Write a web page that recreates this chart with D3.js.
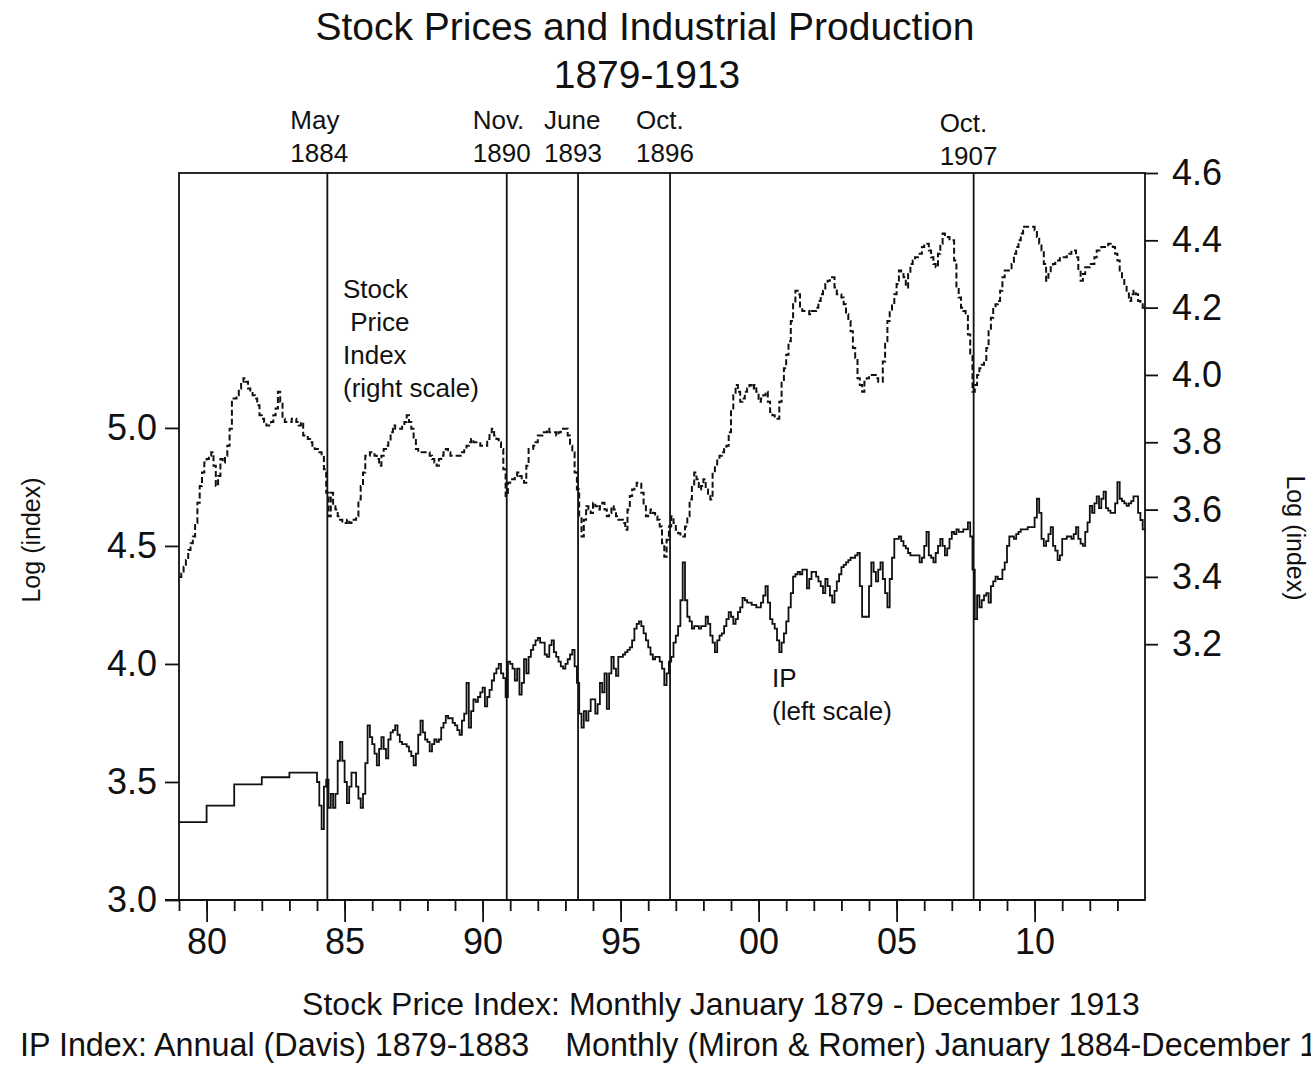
<!DOCTYPE html>
<html><head><meta charset="utf-8">
<script src="https://cdn.jsdelivr.net/npm/d3@7"></script>
<style>
body{margin:0;background:#fff}
svg{display:block}
text{font-family:"Liberation Sans",Arial,Helvetica,sans-serif;fill:#111}
</style>
</head><body>
<svg id="chart" width="1311" height="1066"></svg>
<script>
// ---------------- DATA ----------------
const titleLines = ["Stock Prices and Industrial Production", "1879-1913"];
const footerLines = [
  "Stock Price Index: Monthly January 1879 - December 1913",
  "IP Index: Annual (Davis) 1879-1883    Monthly (Miron & Romer) January 1884-December 1913"
];
const axisTitle = "Log (index)";

// Stock price index, log, monthly Jan 1879 - Dec 1913 (right scale)
const stockStartYear = 1879;
const stockPrice = [
  3.40,3.41,3.43,3.45,3.48,3.50,3.52,3.56,3.62,3.67,3.71,3.74, // 1879
  3.75,3.76,3.77,3.73,3.67,3.70,3.75,3.74,3.76,3.79,3.84,3.93, // 1880
  3.93,3.94,3.96,3.98,3.99,3.98,3.96,3.95,3.94,3.93,3.91,3.88, // 1881
  3.87,3.86,3.85,3.85,3.86,3.88,3.90,3.95,3.92,3.87,3.86,3.86, // 1882
  3.86,3.87,3.87,3.86,3.85,3.86,3.82,3.82,3.81,3.80,3.79,3.78, // 1883
  3.78,3.77,3.76,3.72,3.65,3.58,3.65,3.61,3.60,3.58,3.57,3.56, // 1884
  3.56,3.57,3.56,3.57,3.57,3.58,3.63,3.67,3.71,3.76,3.76,3.77, // 1885
  3.77,3.76,3.75,3.73,3.76,3.78,3.79,3.80,3.83,3.85,3.84,3.84, // 1886
  3.84,3.85,3.86,3.88,3.86,3.84,3.81,3.78,3.77,3.77,3.77,3.77, // 1887
  3.77,3.76,3.75,3.74,3.73,3.75,3.76,3.77,3.78,3.77,3.76,3.76, // 1888
  3.76,3.76,3.76,3.77,3.78,3.79,3.80,3.81,3.80,3.80,3.80,3.79, // 1889
  3.79,3.79,3.81,3.83,3.84,3.82,3.81,3.80,3.78,3.72,3.64,3.68, // 1890
  3.69,3.69,3.70,3.71,3.70,3.69,3.68,3.73,3.78,3.78,3.79,3.80, // 1891
  3.82,3.82,3.83,3.83,3.84,3.83,3.83,3.83,3.82,3.83,3.84,3.84, // 1892
  3.84,3.82,3.79,3.77,3.71,3.66,3.58,3.52,3.57,3.61,3.60,3.59, // 1893
  3.62,3.61,3.60,3.61,3.62,3.60,3.58,3.59,3.61,3.60,3.58,3.57, // 1894
  3.57,3.56,3.54,3.60,3.64,3.66,3.67,3.68,3.68,3.65,3.61,3.58, // 1895
  3.59,3.60,3.59,3.58,3.57,3.55,3.50,3.46,3.51,3.55,3.58,3.56, // 1896
  3.54,3.53,3.52,3.52,3.55,3.58,3.63,3.67,3.71,3.69,3.66,3.67, // 1897
  3.69,3.66,3.64,3.63,3.71,3.73,3.75,3.76,3.77,3.78,3.79,3.83, // 1898
  3.90,3.94,3.97,3.95,3.92,3.93,3.95,3.96,3.97,3.96,3.97,3.95, // 1899
  3.92,3.93,3.94,3.95,3.92,3.89,3.88,3.87,3.87,3.92,3.98,4.02, // 1900
  4.06,4.10,4.16,4.21,4.25,4.24,4.20,4.19,4.19,4.19,4.18,4.19, // 1901
  4.19,4.20,4.22,4.24,4.25,4.27,4.28,4.29,4.29,4.26,4.24,4.24, // 1902
  4.23,4.21,4.18,4.16,4.13,4.08,4.05,3.99,3.97,3.95,3.98,3.99, // 1903
  4.00,4.00,4.00,3.99,3.98,3.98,4.04,4.10,4.16,4.19,4.21,4.24, // 1904
  4.27,4.31,4.30,4.29,4.26,4.30,4.33,4.34,4.35,4.35,4.36,4.38, // 1905
  4.39,4.39,4.37,4.35,4.33,4.32,4.36,4.39,4.42,4.41,4.41,4.40, // 1906
  4.40,4.34,4.26,4.23,4.20,4.19,4.18,4.12,4.06,3.95,3.97,4.00, // 1907
  4.02,4.03,4.04,4.08,4.13,4.17,4.20,4.21,4.22,4.25,4.29,4.31, // 1908
  4.31,4.31,4.33,4.36,4.38,4.40,4.42,4.44,4.44,4.44,4.44,4.44, // 1909
  4.43,4.41,4.39,4.37,4.33,4.28,4.30,4.32,4.33,4.34,4.34,4.35, // 1910
  4.35,4.35,4.36,4.36,4.37,4.37,4.35,4.31,4.28,4.30,4.32,4.32, // 1911
  4.33,4.33,4.35,4.37,4.37,4.38,4.38,4.38,4.39,4.39,4.38,4.36, // 1912
  4.34,4.31,4.29,4.27,4.25,4.22,4.24,4.25,4.24,4.22,4.21,4.20  // 1913
];

// Industrial production, log (left scale): annual 1879-1883 (Davis)
const ipAnnualYears = [1879, 1880, 1881, 1882, 1883];
const ipAnnual = [3.33, 3.40, 3.49, 3.52, 3.54];
// monthly Jan 1884 - Dec 1913 (Miron & Romer)
const ipMonthlyStartYear = 1884;
const ipMonthly = [
  3.50,3.40,3.30,3.48,3.51,3.39,3.45,3.39,3.45,3.59,3.67,3.59, // 1884
  3.50,3.41,3.48,3.54,3.54,3.48,3.43,3.39,3.45,3.58,3.74,3.69, // 1885
  3.66,3.62,3.57,3.64,3.69,3.64,3.60,3.68,3.71,3.72,3.74,3.70, // 1886
  3.67,3.66,3.66,3.65,3.63,3.61,3.57,3.62,3.70,3.76,3.71,3.68, // 1887
  3.67,3.63,3.66,3.68,3.67,3.68,3.73,3.75,3.78,3.77,3.77,3.75, // 1888
  3.74,3.72,3.70,3.76,3.79,3.92,3.73,3.80,3.85,3.84,3.86,3.88, // 1889
  3.90,3.82,3.86,3.89,3.93,3.96,3.98,4.00,3.96,3.94,3.86,4.01, // 1890
  4.00,3.98,3.93,3.98,3.87,3.92,4.02,3.96,4.03,4.06,4.08,4.10, // 1891
  4.11,4.09,4.09,4.04,4.03,4.08,4.10,4.05,4.03,4.01,3.99,3.98, // 1892
  4.00,4.02,4.04,4.06,3.99,3.92,3.79,3.73,3.80,3.76,3.80,3.85, // 1893
  3.85,3.79,3.83,3.92,3.88,3.96,3.81,3.96,4.03,3.98,3.95,4.03, // 1894
  4.03,4.04,4.05,4.06,4.07,4.10,4.15,4.17,4.18,4.16,4.13,4.10, // 1895
  4.07,4.04,4.02,4.03,4.03,4.01,3.98,3.91,3.96,4.01,4.03,4.09, // 1896
  4.12,4.16,4.27,4.43,4.27,4.20,4.18,4.15,4.16,4.16,4.15,4.16, // 1897
  4.16,4.20,4.17,4.12,4.09,4.05,4.10,4.12,4.13,4.16,4.19,4.22, // 1898
  4.20,4.17,4.19,4.22,4.24,4.28,4.27,4.26,4.26,4.25,4.25,4.24, // 1899
  4.24,4.26,4.29,4.33,4.26,4.19,4.17,4.15,4.10,4.05,4.09,4.13, // 1900
  4.18,4.24,4.30,4.37,4.38,4.39,4.38,4.40,4.40,4.32,4.36,4.39, // 1901
  4.39,4.37,4.35,4.33,4.30,4.36,4.33,4.29,4.26,4.31,4.35,4.38, // 1902
  4.41,4.42,4.43,4.44,4.45,4.45,4.46,4.47,4.33,4.20,4.20,4.20, // 1903
  4.33,4.43,4.39,4.35,4.40,4.43,4.36,4.30,4.24,4.36,4.45,4.53, // 1904
  4.53,4.54,4.52,4.50,4.49,4.47,4.46,4.46,4.46,4.46,4.43,4.45, // 1905
  4.50,4.56,4.46,4.45,4.43,4.47,4.50,4.53,4.50,4.46,4.49,4.53, // 1906
  4.56,4.55,4.57,4.56,4.56,4.57,4.57,4.60,4.54,4.40,4.19,4.29, // 1907
  4.24,4.27,4.29,4.30,4.26,4.33,4.35,4.37,4.36,4.36,4.40,4.43, // 1908
  4.50,4.54,4.54,4.53,4.55,4.56,4.57,4.57,4.57,4.58,4.58,4.58, // 1909
  4.62,4.70,4.64,4.53,4.50,4.52,4.55,4.58,4.50,4.48,4.44,4.46, // 1910
  4.53,4.53,4.54,4.54,4.53,4.55,4.58,4.53,4.51,4.50,4.56,4.60, // 1911
  4.67,4.64,4.68,4.71,4.66,4.70,4.73,4.66,4.65,4.64,4.64,4.68, // 1912
  4.77,4.70,4.69,4.68,4.67,4.68,4.69,4.71,4.71,4.64,4.61,4.57  // 1913
];

// Axis ticks
const leftTicks = [3.0, 3.5, 4.0, 4.5, 5.0];
const rightTicks = [3.2, 3.4, 3.6, 3.8, 4.0, 4.2, 4.4, 4.6];
const minorYears = [1879,1880,1881,1882,1883,1884,1885,1886,1887,1888,1889,1890,1891,1892,1893,1894,1895,1896,1897,1898,1899,1900,1901,1902,1903,1904,1905,1906,1907,1908,1909,1910,1911,1912,1913];
const majorYears = [1880, 1885, 1890, 1895, 1900, 1905, 1910];
const majorLabels = ["80", "85", "90", "95", "00", "05", "10"];

// Event markers (year, month index 0-11)
const eventYears = [1884, 1890, 1893, 1896, 1907];
const eventMonths = [4, 10, 5, 9, 9];
const eventMonthLabels = ["May", "Nov.", "June", "Oct.", "Oct."];

// Annotations
const stockNote = ["Stock", " Price", "Index", "(right scale)"];
const ipNote = ["IP", "(left scale)"];

// ---------------- CHART ----------------
const svg = d3.select("#chart");
const L = 179, R = 1145, T = 173, B = 900;
const SW = 1.8;

const x = d3.scaleLinear().domain([1879, 1914]).range([L, R]);
const yL = d3.scaleLinear().domain([3.0, 6.08]).range([B, T]);
const yR = d3.scaleLinear().domain([2.44, 4.6]).range([B, T]);

svg.append("defs").append("clipPath").attr("id", "plot")
  .append("rect").attr("x", L).attr("y", T).attr("width", R - L).attr("height", B - T);

// Title
svg.append("text").attr("x", 645).attr("y", 40).attr("text-anchor", "middle")
  .attr("font-size", 39).text(titleLines[0]);
svg.append("text").attr("x", 647).attr("y", 88).attr("text-anchor", "middle")
  .attr("font-size", 39).text(titleLines[1]);

// Series
const stockPts = stockPrice.map((v, i) => ({t: stockStartYear + i / 12, v}));
stockPts.push({t: stockStartYear + stockPrice.length / 12, v: stockPrice[stockPrice.length - 1]});

const ipPts = ipAnnual.map((v, i) => ({t: ipAnnualYears[i], v}))
  .concat(ipMonthly.map((v, i) => ({t: ipMonthlyStartYear + i / 12, v})));
ipPts.push({t: ipMonthlyStartYear + ipMonthly.length / 12, v: ipMonthly[ipMonthly.length - 1]});

const g = svg.append("g").attr("clip-path", "url(#plot)");

g.append("path").datum(stockPts)
  .attr("fill", "none").attr("stroke", "#111").attr("stroke-width", 2)
  .attr("stroke-dasharray", "6,3")
  .attr("d", d3.line().x(d => x(d.t)).y(d => yR(d.v)).curve(d3.curveStepAfter));

g.append("path").datum(ipPts)
  .attr("fill", "none").attr("stroke", "#111").attr("stroke-width", SW)
  .attr("d", d3.line().x(d => x(d.t)).y(d => yL(d.v)).curve(d3.curveStepAfter));

// Event lines and labels
eventYears.forEach((yr, i) => {
  const t = yr + (eventMonths[i] + 0.5) / 12;
  const xv = x(t);
  svg.append("line").attr("x1", xv).attr("x2", xv).attr("y1", T).attr("y2", B)
    .attr("stroke", "#111").attr("stroke-width", SW);
  const dy = yr === 1907 ? 3 : 0;
  const dx = yr === 1884 ? -37 : -34;
  svg.append("text").attr("x", xv + dx).attr("y", 129 + dy).attr("font-size", 26)
    .text(eventMonthLabels[i]);
  svg.append("text").attr("x", xv + dx).attr("y", 162 + dy).attr("font-size", 26)
    .text(String(yr));
});

// Frame
svg.append("rect").attr("x", L).attr("y", T).attr("width", R - L).attr("height", B - T)
  .attr("fill", "none").attr("stroke", "#111").attr("stroke-width", SW);

// Left axis
const axL = svg.append("g").attr("transform", `translate(${L},0)`)
  .call(d3.axisLeft(yL).tickValues(leftTicks).tickSize(14).tickPadding(8).tickFormat(d3.format(".1f")));
axL.select(".domain").remove();
axL.selectAll("line").attr("stroke", "#111").attr("stroke-width", SW);
axL.selectAll("text").attr("font-size", 36).attr("fill", "#111")
  .style("font-family", '"Liberation Sans",Arial,sans-serif');

// Right axis
const axR = svg.append("g").attr("transform", `translate(${R},0)`)
  .call(d3.axisRight(yR).tickValues(rightTicks).tickSize(13).tickPadding(14).tickFormat(d3.format(".1f")));
axR.select(".domain").remove();
axR.selectAll("line").attr("stroke", "#111").attr("stroke-width", SW);
axR.selectAll("text").attr("font-size", 36).attr("fill", "#111")
  .style("font-family", '"Liberation Sans",Arial,sans-serif');

// Bottom axis: minor ticks
const axBm = svg.append("g").attr("transform", `translate(0,${B})`)
  .call(d3.axisBottom(x).tickValues(minorYears).tickSize(11).tickFormat(""));
axBm.select(".domain").remove();
axBm.selectAll("line").attr("stroke", "#111").attr("stroke-width", SW);

// Bottom axis: major ticks with labels
const axBM = svg.append("g").attr("transform", `translate(0,${B})`)
  .call(d3.axisBottom(x).tickValues(majorYears).tickSize(22).tickPadding(6)
    .tickFormat((d, i) => majorLabels[i]));
axBM.select(".domain").remove();
axBM.selectAll("line").attr("stroke", "#111").attr("stroke-width", SW);
axBM.selectAll("text").attr("font-size", 36).attr("fill", "#111")
  .style("font-family", '"Liberation Sans",Arial,sans-serif');

// bottom line extension at left corner
svg.append("line").attr("x1", L - 14).attr("x2", R).attr("y1", B).attr("y2", B)
  .attr("stroke", "#111").attr("stroke-width", SW);

// Axis titles
svg.append("text").attr("transform", "translate(40,540) rotate(-90)")
  .attr("text-anchor", "middle").attr("font-size", 25).text(axisTitle);
svg.append("text").attr("transform", "translate(1287,538) rotate(90)")
  .attr("text-anchor", "middle").attr("font-size", 25).text(axisTitle);

// Annotations
stockNote.forEach((s, i) => {
  svg.append("text").attr("x", 343).attr("y", 298 + i * 33).attr("font-size", 26)
    .style("white-space", "pre").text(s);
});
ipNote.forEach((s, i) => {
  svg.append("text").attr("x", 772).attr("y", 687 + i * 33).attr("font-size", 26).text(s);
});

// Footer
svg.append("text").attr("x", 721).attr("y", 1015).attr("text-anchor", "middle")
  .attr("font-size", 32).text(footerLines[0]);
svg.append("text").attr("x", 20).attr("y", 1056)
  .attr("font-size", 32.3).style("white-space", "pre").text(footerLines[1]);
</script>
</body></html>
